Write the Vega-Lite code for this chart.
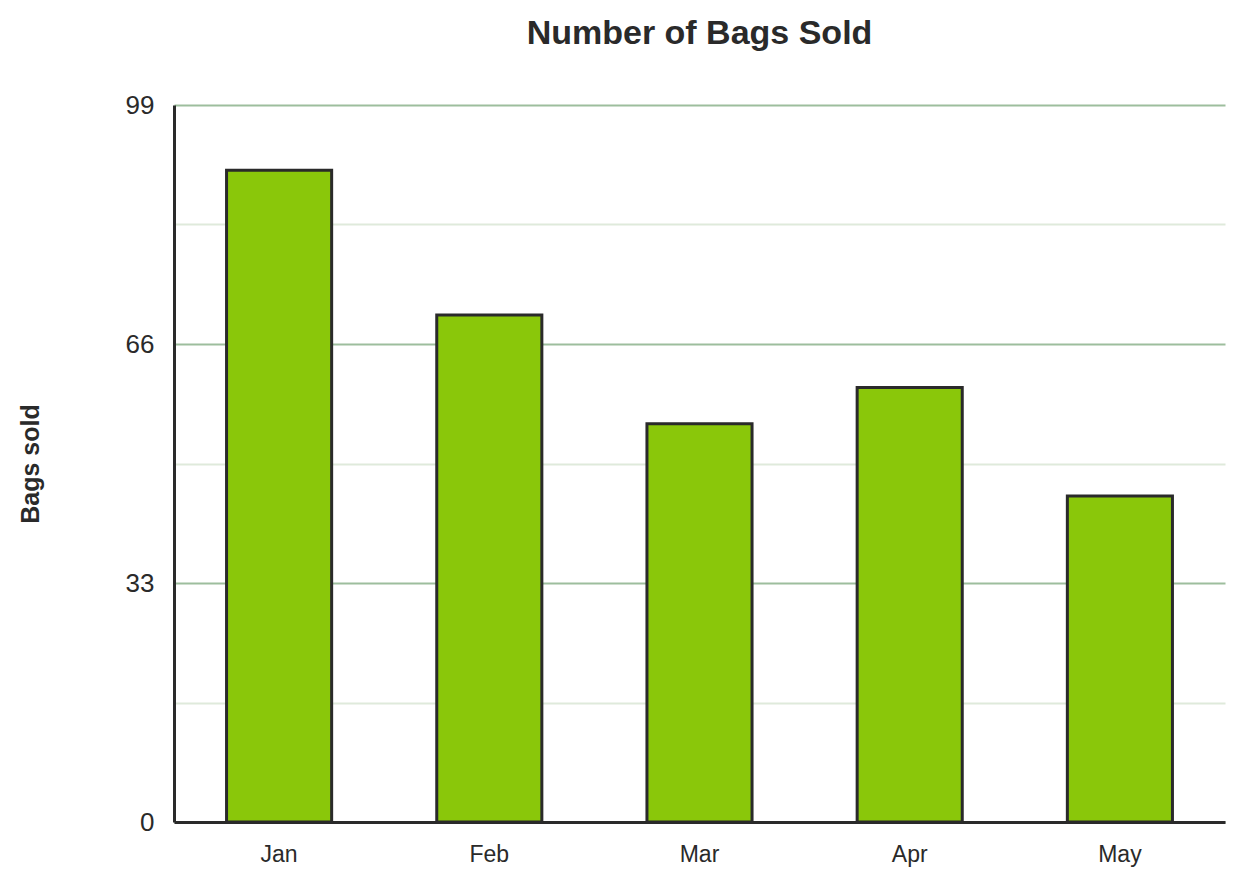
{
  "$schema": "https://vega.github.io/schema/vega-lite/v6.json",
  "autosize": {"type": "none"},
  "padding": {"left": 174, "top": 105, "right": 18, "bottom": 64},
  "width": 1051,
  "height": 717,
  "background": "white",
  "title": {
    "text": "Number of Bags Sold",
    "fontSize": 34,
    "font": "Liberation Sans",
    "fontWeight": "bold",
    "color": "#2a2a2a",
    "offset": 41
  },
  "data": {
    "values": [
      {"month": "Jan", "bags": 90},
      {"month": "Feb", "bags": 70},
      {"month": "Mar", "bags": 55},
      {"month": "Apr", "bags": 60},
      {"month": "May", "bags": 45}
    ]
  },
  "mark": {"type": "bar", "fill": "#8ac70a", "stroke": "#2a2a2a", "strokeWidth": 3},
  "encoding": {
    "x": {
      "field": "month",
      "type": "nominal",
      "sort": null,
      "scale": {"paddingInner": 0.5, "paddingOuter": 0.25},
      "axis": {
        "title": null,
        "labelAngle": 0,
        "labelFontSize": 23,
        "labelColor": "#2a2a2a",
        "labelPadding": 21,
        "ticks": false,
        "domainColor": "#2a2a2a",
        "domainWidth": 3
      }
    },
    "y": {
      "field": "bags",
      "type": "quantitative",
      "scale": {"domain": [0, 99], "nice": false},
      "axis": {
        "title": "Bags sold",
        "titleFontSize": 25,
        "titleFontWeight": "bold",
        "titleColor": "#2a2a2a",
        "titlePadding": 82,
        "values": [0, 16.5, 33, 49.5, 66, 82.5, 99],
        "labelExpr": "datum.value % 33 === 0 ? datum.label : ''",
        "labelFontSize": 26,
        "labelColor": "#2a2a2a",
        "labelPadding": 20,
        "ticks": false,
        "grid": true,
        "gridWidth": 2,
        "gridColor": {"condition": {"test": "datum.value % 33 === 0", "value": "#9dbe9d"}, "value": "#dfeadb"},
        "domainColor": "#2a2a2a",
        "domainWidth": 3
      }
    }
  },
  "config": {
    "font": "Liberation Sans",
    "view": {"stroke": null},
    "axis": {"labelFont": "Liberation Sans", "titleFont": "Liberation Sans"}
  }
}
